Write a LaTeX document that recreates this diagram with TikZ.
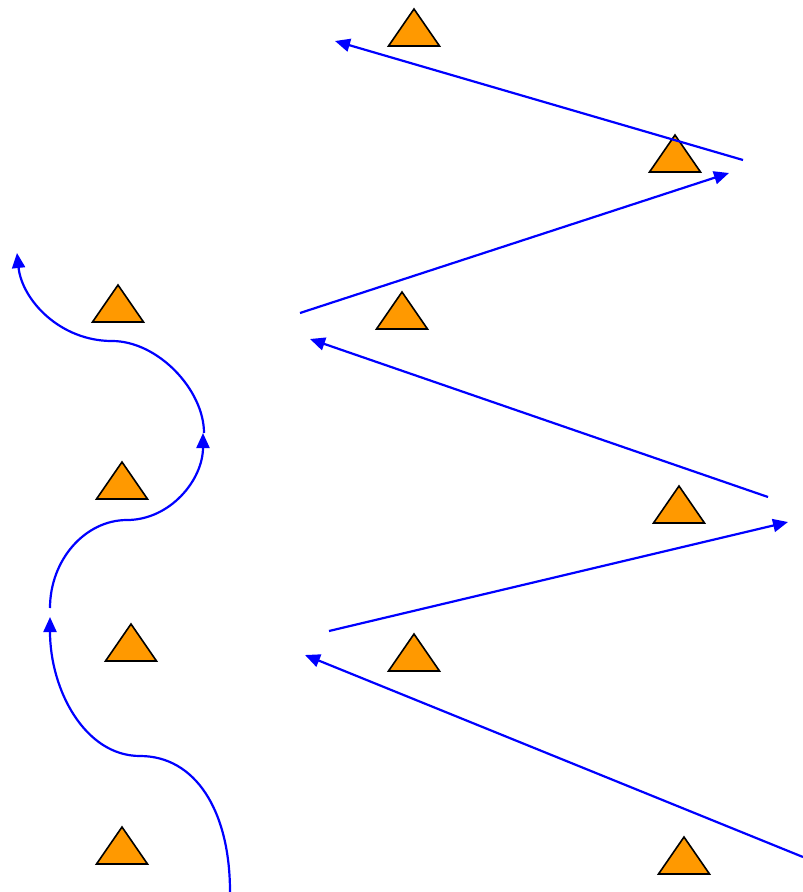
\documentclass[tikz,border=0pt]{standalone}
\usetikzlibrary{arrows.meta}
\definecolor{triorange}{RGB}{255,153,0}
\tikzset{
  tristyle/.style={draw=black, fill=triorange, line width=1.6pt},
  tri/.pic={\path[tristyle] (0,0) -- (-25.5,37) -- (25.5,37) -- cycle;},
  bluearrow/.style={draw=blue, line width=2.2pt, -{Triangle[length=15pt,width=13pt]}},
}
\begin{document}
\begin{tikzpicture}[x=1pt,y=-1pt]
\useasboundingbox (0,0) rectangle (803,892);
% triangles
\pic at (414,9) {tri};
\pic at (675,135) {tri};
\pic at (118,285) {tri};
\pic at (402,292) {tri};
\pic at (122,462) {tri};
\pic at (679,486) {tri};
\pic at (131,624) {tri};
\pic at (414,634) {tri};
\pic at (122,827) {tri};
\pic at (684,837) {tri};
% endpoints
\coordinate (a0) at (743,160); \coordinate (a1) at (335,41);
\coordinate (b0) at (300,313); \coordinate (b1) at (729,173);
\coordinate (c0) at (768,497); \coordinate (c1) at (310,339);
\coordinate (d0) at (329,631); \coordinate (d1) at (788,522);
\coordinate (e0) at (803,857); \coordinate (e1) at (305,655);
\coordinate (f0) at (230,892); \coordinate (fm) at (140,756); \coordinate (f1) at (50,617);
\coordinate (g0) at (50,608); \coordinate (gm) at (127,520); \coordinate (g1) at (203,433);
\coordinate (h0) at (204,433); \coordinate (hm) at (112,341); \coordinate (h1) at (17,253);
% straight arrows
\draw[bluearrow] (a0) -- (a1);
\draw[bluearrow] (b0) -- (b1);
\draw[bluearrow] (c0) -- (c1);
\draw[bluearrow] (d0) -- (d1);
\draw[bluearrow] (e0) -- (e1);
% curved arrows
\draw[bluearrow] (f0) .. controls (230,810) and (195,756) .. (fm)
  .. controls (85,756) and (50,690) .. (f1);
\draw[bluearrow] (g0) .. controls (50,560) and (85,520) .. (gm)
  .. controls (170,520) and (203,480) .. (g1);
\draw[bluearrow] (h0) .. controls (204,390) and (158,341) .. (hm)
  .. controls (60,341) and (22,300) .. (h1);
\end{tikzpicture}
\end{document}
